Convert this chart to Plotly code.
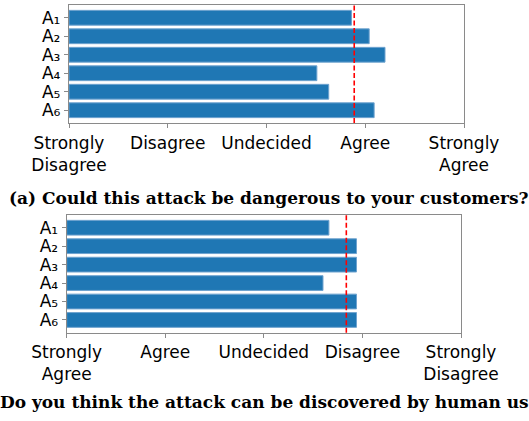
import plotly.graph_objects as go

attacks = ["A₁", "A₂", "A₃", "A₄", "A₅", "A₆"]
danger_scores = [3.86, 4.04, 4.20, 3.51, 3.63, 4.09]
discover_scores = [3.66, 3.94, 3.94, 3.60, 3.94, 3.94]
danger_ticks = ["Strongly<br>Disagree", "Disagree", "Undecided", "Agree", "Strongly<br>Agree"]
discover_ticks = ["Strongly<br>Agree", "Agree", "Undecided", "Disagree", "Strongly<br>Disagree"]
tick_vals = [1, 2, 3, 4, 5]
caption_a = "(a) Could this attack be dangerous to your customers?"
caption_b = "(b) Do you think the attack can be discovered by human users?"

W, H = 529, 421
BLUE = "#1f77b4"
EDGE = "#6fa3cf"
SPINE = "#8a8a8a"

fig = go.Figure()
ypos = list(range(len(attacks)))

for i, scores in enumerate([danger_scores, discover_scores]):
    xa = "x" if i == 0 else "x2"
    ya = "y" if i == 0 else "y2"
    fig.add_trace(go.Bar(
        x=[s - 1 for s in scores], base=1, y=ypos, orientation="h",
        width=0.8, marker=dict(color=BLUE, line=dict(color=EDGE, width=1)),
        xaxis=xa, yaxis=ya, showlegend=False, hoverinfo="skip"))
    mean = sum(scores) / len(scores)
    fig.add_shape(type="line", xref=xa, yref=("y domain" if i == 0 else "y2 domain"),
                  x0=mean, x1=mean, y0=0, y1=1,
                  line=dict(color="red", width=1.6, dash="5px,2.5px"))

axis_common = dict(showline=True, linecolor=SPINE, linewidth=1.3, mirror=True,
                   showgrid=False, zeroline=False, ticks="outside", ticklen=4,
                   tickcolor=SPINE, tickwidth=1, tickangle=0, automargin=False,
                   tickfont=dict(family="DejaVu Sans", size=17, color="black"))

fig.update_layout(
    width=W, height=H, margin=dict(l=0, r=0, t=0, b=0, autoexpand=False),
    paper_bgcolor="white", plot_bgcolor="white", bargap=0.2,
    xaxis=dict(domain=[69 / W, 464 / W], range=[1, 5], tickvals=tick_vals,
               ticktext=danger_ticks, anchor="y", **axis_common),
    yaxis=dict(domain=[1 - 123 / H, 1 - 5 / H], range=[5.69, -0.69],
               tickvals=ypos, ticktext=attacks, anchor="x", **axis_common),
    xaxis2=dict(domain=[66.7 / W, 461 / W], range=[1, 5], tickvals=tick_vals,
                ticktext=discover_ticks, anchor="y2", **axis_common),
    yaxis2=dict(domain=[1 - 332.7 / H, 1 - 215 / H], range=[5.69, -0.69],
                tickvals=ypos, ticktext=attacks, anchor="x2", **axis_common),
)

fig.add_annotation(text="<b>" + caption_a + "</b>", xref="paper", yref="paper",
                   x=268.5 / W, y=1 - 210 / H, xanchor="center", yanchor="bottom",
                   showarrow=False, font=dict(family="DejaVu Serif", size=17, color="black"))
fig.add_annotation(text="<b>" + caption_b + "</b>", xref="paper", yref="paper",
                   x=-36 / W, y=1 - 414 / H, xanchor="left", yanchor="bottom",
                   showarrow=False, font=dict(family="DejaVu Serif", size=17, color="black"))

fig.write_html("out.html", config={"displayModeBar": False},
               post_script="document.body.style.margin='0';document.body.style.overflow='hidden';")
